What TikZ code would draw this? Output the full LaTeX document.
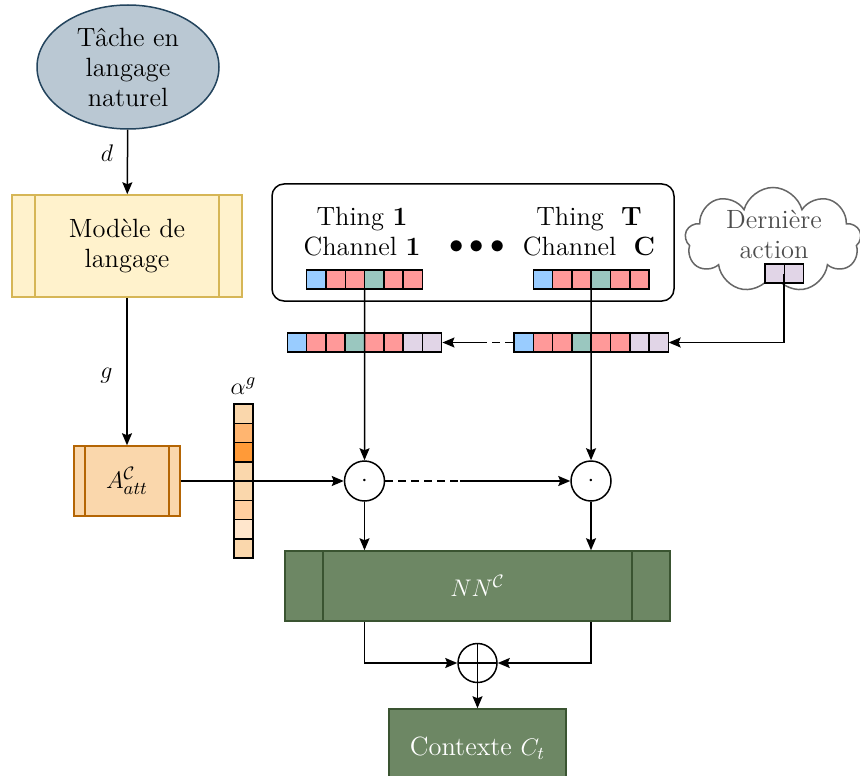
\documentclass[tikz,border=0pt]{standalone}
\usepackage{amsmath}
\usepackage{amssymb}
\usepackage{tikz}
\usetikzlibrary{positioning,calc,shapes.geometric,shapes.symbols,arrows.meta}
\definecolor{taskfill}{HTML}{BAC8D3}
\definecolor{taskline}{HTML}{23445D}
\definecolor{lmfill}{HTML}{FFF2CC}
\definecolor{lmline}{HTML}{D6B656}
\definecolor{attfill}{HTML}{FAD7AC}
\definecolor{attline}{HTML}{B46504}
\definecolor{nnfill}{HTML}{6D8764}
\definecolor{nnline}{HTML}{3A5431}
\definecolor{cblue}{HTML}{99CCFF}
\definecolor{cred}{HTML}{FF9999}
\definecolor{cteal}{HTML}{9AC7BF}
\definecolor{clilac}{HTML}{E1D5E7}
\definecolor{aone}{HTML}{FFB570}
\definecolor{atwo}{HTML}{FF9A38}
\definecolor{athree}{HTML}{FFCE9F}
\definecolor{afour}{HTML}{FFE6CC}
\definecolor{cloudline}{HTML}{666666}
\definecolor{cloudtext}{HTML}{4D4D4D}

\begin{document}
\begin{tikzpicture}[
  x=0.5pt,y=-0.5pt,
  >={Stealth[length=6pt,width=5pt,inset=1pt]},
  font=\fontsize{13.2}{15}\selectfont,
  line width=0.75pt,
  bars/.style 2 args={path picture={
      \draw[draw=#1,line width=0.75pt]
        ([xshift=#2]path picture bounding box.north west) -- ([xshift=#2]path picture bounding box.south west)
        ([xshift=-#2]path picture bounding box.north east) -- ([xshift=-#2]path picture bounding box.south east);}},
  taskbox/.style={ellipse,draw=taskline,fill=taskfill,align=center,inner sep=0pt,
              minimum width=91pt,minimum height=62pt},
  lmbox/.style={draw=lmline,fill=lmfill,align=center,inner sep=0pt,
              minimum width=115pt,minimum height=51pt,bars={lmline}{11.5pt}},
  attbox/.style={draw=attline,fill=attfill,inner sep=0pt,
              minimum width=53pt,minimum height=35pt,bars={attline}{5.5pt}},
  nnbox/.style={draw=nnline,fill=nnfill,text=white,inner sep=0pt,
              minimum width=192.5pt,minimum height=35pt,bars={nnline}{19pt}},
  ctxbox/.style={draw=nnline,fill=nnfill,text=white,inner sep=0pt,
              minimum width=88.5pt,minimum height=39pt},
  vecrow/.style={inner sep=0pt,minimum height=9.5pt,minimum width=#1},
  cell/.style={draw,fill=#1,inner sep=0pt,minimum width=9.65pt,minimum height=9.5pt},
  acell/.style={draw,fill=#1,inner sep=0pt,minimum width=9.5pt,minimum height=9.625pt},
  op/.style={circle,draw,fill=white,inner sep=0pt,minimum size=20pt},
  oplus/.style={op,minimum size=19.5pt,path picture={
      \draw (path picture bounding box.north) -- (path picture bounding box.south)
            (path picture bounding box.west) -- (path picture bounding box.east);}}
]
  \useasboundingbox (0,0) rectangle (860,775);

  % left column
  \node[taskbox] (task) at (128,67) {T\^ache en\\langage\\naturel};
  \node[lmbox] (lm) at (127,246) {Mod\`ele de\\langage};
  \node[attbox] (att) at (127,481) {$A^{\mathcal{C}}_{att}$};

  % things and channels
  \node[draw,rounded corners=6pt,minimum width=201pt,minimum height=58.5pt] (things) at (473,242.5) {};
  \node[align=center] (thing1) at (362,232) {Thing \textbf{1}\\Channel \textbf{1}};
  \node[align=center] (thingT) at (589,232) {Thing\ \ \textbf{T}\\Channel\ \ \textbf{C}};
  \node (dots) at (477,247) {\fontsize{13.5}{15}\selectfont$\bullet\bullet\bullet$};

  \node[vecrow=57.9pt] (v1) at (364.6,279.5) {};
  \node[vecrow=57.9pt] (v2) at (591.2,279.5) {};
  \foreach \col [count=\i] in {cblue,cred,cred,cteal,cred,cred} {
    \node[cell=\col] at (306.7+\i*19.3-9.65,279.5) {};
    \node[cell=\col] at (533.3+\i*19.3-9.65,279.5) {};
  }

  % last action
  \node[cloud,draw=cloudline,cloud puffs=9,aspect=1.8,inner sep=0pt,
        minimum width=88pt,minimum height=52.5pt] (last) at (773,240) {};
  \node[align=center,text=cloudtext] (lasttext) at (774,234.5) {Derni\`ere\\action};
  \node[vecrow=19pt] (av) at (784,273.5) {};
  \foreach \i in {1,2}
    \node[cell=clilac] at (765+\i*19.3-9.65,273.5) {};

  % concatenated rows
  \node[vecrow=77.2pt] (r1) at (364.5,342.5) {};
  \node[vecrow=77.2pt] (r2) at (590.7,342.5) {};
  \foreach \col [count=\i] in {cblue,cred,cred,cteal,cred,cred,clilac,clilac} {
    \node[cell=\col] at (287.3+\i*19.3-9.65,342.5) {};
    \node[cell=\col] at (514+\i*19.3-9.65,342.5) {};
  }

  % attention weights
  \node[inner sep=0pt,minimum width=9.5pt,minimum height=77pt] (alpha) at (243.5,481) {};
  \node (alphalabel) at (243.5,386) {$\alpha^{g}$};
  \foreach \col [count=\i] in {attfill,aone,atwo,attfill,attfill,athree,afour,attfill}
    \node[acell=\col] at (243.5,404+\i*19.25-9.625) {};

  % products, network and sum
  \node[op] (m1) at (364.5,481) {$\cdot$};
  \node[op] (m2) at (591,481) {$\cdot$};
  \node[nnbox] (nn) at (477.5,586) {$NN^{\mathcal{C}}$};
  \node[oplus] (sum) at (477.5,663) {};
  \node[ctxbox] (ctx) at (477.5,748) {Contexte $C_t$};

  \coordinate (mid) at (460,481);
  \coordinate (rowmid) at (480,342.5);

  \draw[->] (task) -- (lm) node[pos=0.37,left=3.5pt] {$d$};
  \draw[->] (lm) -- (att) node[pos=0.53,left=3.5pt] {$g$};
  \draw[->] (att) -- (m1);
  \draw[dashed,dash pattern=on 4pt off 2.5pt] (m1) -- (mid);
  \draw[->] (mid) -- (m2);
  \draw[->] (v1) -- (m1);
  \draw[->] (v2) -- (m2);
  \draw[->] (last.south -| av) |- (r2);
  \draw[dashed,dash pattern=on 4pt off 2.5pt] (r2) -- (rowmid);
  \draw[->] (rowmid) -- (r1);
  \draw[->] (m1) -- (m1 |- nn.north);
  \draw[->] (m2) -- (m2 |- nn.north);
  \draw[->] (m1 |- nn.south) |- (sum);
  \draw[->] (m2 |- nn.south) |- (sum);
  \draw[->] (sum) -- (ctx);
\end{tikzpicture}
\end{document}
